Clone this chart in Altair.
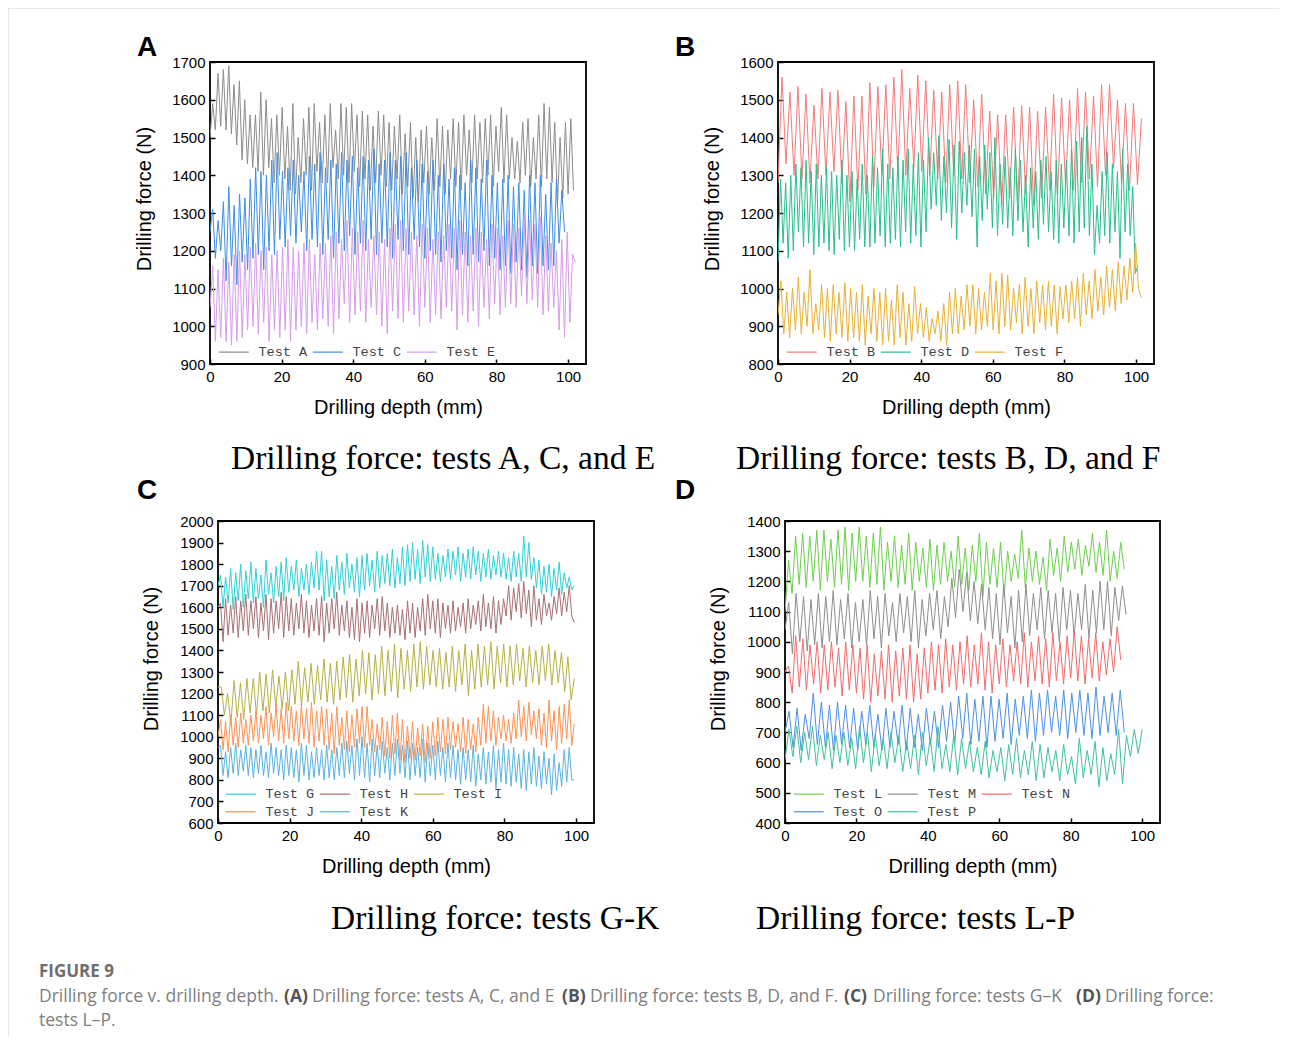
import altair as alt
import pandas as pd
import numpy as np

# ---------------- data ----------------
X_TICKS = [0, 20, 40, 60, 80, 100]

# Panel A
A_NAMES = ["Test A", "Test C", "Test E"]
A_COLORS = ["#8c8c8c", "#3d8fe6", "#d79ce9"]
TA_PEAKS = [1590,1670,1680,1690,1640,1650,1600, 1560,1560,1620,1600,1550,1560,1580,
            1530,1590,1500,1550,1580,1590,1540, 1560,1590,1520,1590,1580,1590,1560,
            1570,1560,1530,1570,1560,1540,1530, 1560,1510,1540,1500,1520,1530,1500,
            1550,1530,1520,1550,1540,1560,1520, 1560,1540,1550,1560,1530,1580,1560,
            1500,1490,1540,1550,1500,1560, 1590,1580,1540,1500,1540,1550]
TA_TROUGHS = [1520,1530,1520,1510,1480,1440,1430, 1420,1410,1400,1420,1380,1400,1390,
              1360,1350,1380,1400,1360,1410,1380, 1380,1420,1390,1400,1380,1410,1370,
              1390,1360,1380,1400,1370,1360,1390, 1350,1370,1340,1330,1380,1350,1360,
              1370,1350,1390,1370,1360,1400,1380, 1390,1380,1400,1370,1410,1380,1390,
              1390,1380,1400,1370,1390,1370, 1390,1380,1320,1340,1350,1360]
TC_PEAKS = [1310,1280,1330,1370,1320,1350,1340, 1390,1420,1410,1400,1440,1460,1410,
            1420,1440,1400,1410,1450,1430,1460, 1420,1440,1430,1460,1440,1450,1420,
            1450,1440,1470,1430,1440,1460,1440, 1450,1460,1420,1440,1430,1410,1440,
            1400,1430,1390,1420,1400,1380, 1440,1420,1390,1440,1400,1380,
            1390,1400,1370,1380,1360,1400, 1380,1400,1350,1380,1390,1360]
TC_TROUGHS = [1180,1200,1120,1160,1110,1170,1150, 1180,1190,1150,1200,1190,1230,1210,
              1240,1220,1250,1200,1230,1210,1190, 1230,1180,1220,1200,1240,1190,1220,
              1200,1230,1190,1220,1210,1180,1230, 1200,1190,1230,1210,1180,1200,1190,
              1170,1200,1180,1150,1190,1160, 1190,1170,1200,1160,1180,1150,
              1160,1140,1170,1150,1130,1160, 1140,1160,1150,1160,1220,1250]
TE_PEAKS = [1160,1150,1180,1170,1190,1200,1190, 1210,1220,1200,1210,1190,1200,1210,
            1230,1210,1200,1220,1230,1190,1220, 1220,1240,1250,1230,1280,1260,1250,
            1280,1230,1240,1250,1230,1260,1270, 1280,1260,1250,1240,1270,1260,1230,
            1250,1240,1270,1260,1280,1250,1240, 1260,1250,1230,1270,1260,1240,1280,
            1270,1260,1290,1280,1270,1290, 1240,1220,1200,1230,1250,1190]
TE_TROUGHS = [960,970,960,950,960,970,990, 1000,980,1010,960,990,970,990,
              960,990,1000,980,1010,990,1020, 1000,980,1020,1060,1010,1030,1040,
              1010,1050,1030,1000,980,1040,1020, 1010,1040,1030,1000,1050,1010,1030,
              1020,1050,1040,990,1030,1010,1040, 1000,1050,1020,1060,1030,1050,1060,
              1050,1080,1060,1070,1050,1030, 1040,1050,990,970,1010,1170]

# Panel B
B_NAMES = ["Test B", "Test D", "Test F"]
B_COLORS = ["#f47b7b", "#28c08b", "#e9b132"]
TB_PEAKS = [1560,1520,1535,1515,1485,1530,1520,1525,1495,1510,1510,1545,1535,1540,1560,
            1580,1530,1565,1550,1525,1520,1540,1550,1540,1500,1515,1470,1460,1460,1480,
            1485,1480,1470,1480,1515,1505,1500,1530,1520,1510,1540,1540,1500,1490,1490]
TB_TROUGHS = [1330,1300,1290,1280,1290,1300,1310,1280,1230,1260,1250,1270,1300,1290,1310,
              1300,1320,1310,1300,1290,1280,1300,1290,1280,1270,1250,1240,1220,1240,1230,
              1250,1220,1240,1260,1250,1270,1260,1280,1290,1270,1300,1320,1280,1260,1275]
TD_PEAKS = [1290,1280,1300,1330,1320,1340,1310, 1330,1300,1320,1310,1300,1340,1300,
            1310,1290,1330,1300,1350,1320,1370, 1330,1320,1350,1340,1370,1330,1360,
            1340,1400,1360,1405,1350,1395,1380, 1390,1360,1380,1370,1350,1380,1360,
            1400,1330,1350,1320,1370,1340,1300, 1320,1310,1340,1350,1310,1340,1330,
            1340,1370,1390,1400,1430,1330,1220, 1310,1360,1330,1310,1370,1330,1270]
TD_TROUGHS = [1120,1080,1100,1150,1110,1120,1090, 1110,1120,1100,1090,1130,1100,1110,
              1100,1130,1110,1110,1120,1140,1110, 1120,1130,1110,1150,1120,1140,1110,
              1150,1210,1220,1180,1200,1160,1130, 1200,1220,1190,1110,1180,1210,1160,
              1140,1170,1160,1140,1180,1150,1110, 1160,1130,1170,1150,1130,1120,1160,
              1140,1120,1150,1160,1140,1090,1120, 1140,1120,1150,1080,1150,1140,1040]
TF_PEAKS = [1020,990,1000,1030,990,1050, 960,1010,1000,1010,990,1015,
            1000,990,1010,980,1000,990, 1000,970,1010,990,960,1005,
            960,950,920,940,960,990, 1000,980,1010,1010,1000,990,
            1040,1020,1040,1035,1000,1010, 1030,1000,1020,1010,1020,1010,1005,
            1010,1020,1030,1040,1020,1050,1030, 1060,1050,1070,1060,1080,1120]
TF_TROUGHS = [880,870,890,880,900,880, 890,870,860,880,870,860,
              870,860,850,880,860,850, 860,850,870,850,860,880,
              870,860,880,860,850,880, 880,890,900,880,890,900,
              890,880,900,890,910,880, 900,880,910,890,900,880,920,
              910,920,900,930,920,940,930, 950,940,960,970,990,1000]

# Panel C
C_NAMES = ["Test G", "Test H", "Test I", "Test J", "Test K"]
C_COLORS = ["#2bd3d9", "#a87072", "#b5b143", "#ff9152", "#57b3e3"]
TG_PEAKS = [1750,1740,1780,1760,1800,1770,1810, 1780,1750,1820,1760,1790,1810,1830,
            1790,1820,1780,1800,1810,1860,1860, 1820,1790,1840,1810,1850,1800,1830,
            1840,1850,1820,1860,1840,1850,1870, 1830,1880,1890,1900,1870,1910,1890,
            1880,1850,1840,1870,1860,1880,1850, 1870,1880,1860,1850,1870,1840,1860,
            1850,1830,1860,1850,1930,1900,1830, 1820,1790,1800,1780,1810,1760,1740]
TG_TROUGHS = [1600,1620,1590,1630,1600,1640,1620, 1640,1600,1660,1620,1650,1630,1670,
              1680,1650,1680,1660,1690,1680,1630, 1650,1640,1680,1660,1690,1670,1650,
              1680,1700,1670,1690,1710,1700,1690, 1710,1700,1720,1730,1710,1740,1720,
              1730,1720,1740,1730,1750,1720,1740, 1730,1750,1720,1740,1730,1750,1740,
              1730,1720,1740,1720,1740,1730,1690, 1660,1670,1650,1680,1660,1690,1680]
TH_PEAKS = [1620,1640,1610,1650,1630,1660,1630, 1650,1620,1660,1640,1630,1670,1650,
            1640,1620,1660,1630,1610,1640,1650, 1620,1640,1670,1610,1630,1600,1640,
            1620,1630,1610,1640,1650,1620,1600, 1610,1590,1630,1620,1600,1640,1660,
            1630,1640,1620,1610,1630,1600,1620, 1640,1610,1630,1660,1620,1650,1630,
            1640,1700,1690,1710,1720,1680,1700, 1640,1660,1620,1650,1690,1670,1700]
TH_TROUGHS = [1440,1470,1480,1460,1490,1470,1500, 1460,1490,1450,1480,1500,1460,1490,
              1470,1500,1480,1460,1490,1470,1440, 1480,1500,1470,1490,1460,1450,1440,
              1480,1460,1500,1470,1490,1460,1480, 1470,1450,1480,1460,1490,1470,1500,
              1480,1460,1500,1480,1490,1510,1480, 1500,1520,1490,1510,1500,1480,1520,
              1560,1540,1580,1550,1570,1510,1540, 1520,1560,1540,1570,1560,1580,1560]
TI_PEAKS = [1230,1200,1260,1250,1270,1270, 1300,1290,1310,1280,1300,1310,
            1350,1320,1340,1330,1360,1340, 1350,1370,1380,1360,1400,1390,
            1380,1420,1400,1430,1410, 1400,1430,1440,1420,1400,1410,
            1390,1420,1400,1430,1400, 1430,1420,1440,1420,1430,
            1420,1430,1410,1420,1400, 1420,1430,1400,1390,1370]
TI_TROUGHS = [1100,1060,1090,1080,1110,1100, 1120,1110,1140,1130,1120,1150,
              1140,1160,1150,1170,1160,1150, 1170,1180,1160,1190,1200,1170,
              1200,1190,1210,1180,1220, 1210,1230,1220,1240,1230,1220,
              1230,1210,1240,1190,1220, 1230,1240,1220,1250,1230,
              1240,1260,1230,1250,1240, 1260,1240,1250,1210,1170]
TJ_PEAKS = [1080,1070,1100,1090,1110,1080,1100, 1120,1100,1140,1110,1150,1130,1160,
            1140,1120,1150,1130,1160,1120,1140, 1130,1110,1140,1090,1120,1100,1130,
            1140,1140,1080,1060,1090,1070,1100, 1110,1080,1050,1070,1040,1060,1050,
            1070,1090,1080,1090,1070,1060,1090, 1080,1060,1090,1150,1140,1120,1090,
            1100,1080,1110,1170,1140,1160,1120, 1130,1110,1170,1120,1140,1150,1170]
TJ_TROUGHS = [940,930,960,950,970,960,980, 970,990,960,1000,980,970,990,
              980,960,990,970,950,980,960, 940,920,960,940,930,950,970,
              950,960,930,940,910,900,920, 890,880,900,890,910,880,900,
              910,930,920,940,950,930,920, 940,930,960,970,980,960,990,
              980,970,990,1000,980,1010,990, 960,950,980,940,970,990,960]
TK_PEAKS = [960,930,950,970,940,960,950, 940,960,930,970,950,940,960,
            950,940,970,960,930,950,940, 960,940,950,970,980,960,990,
            1000,970,990,960,980,950,970, 990,960,980,970,950,990,970,
            960,980,950,970,960,940,950, 940,960,920,950,930,960,940,
            970,940,950,920,940,930,950, 910,930,900,920,880,940,950]
TK_TROUGHS = [820,810,830,820,840,820,810, 830,820,810,830,820,800,820,
              810,790,820,800,810,820,800, 810,800,820,810,830,800,820,
              810,790,820,810,830,800,820, 830,810,800,820,810,790,820,
              800,820,790,810,800,780,800, 790,770,800,780,790,760,790,
              780,770,790,760,750,780,770, 760,780,730,750,770,790,800]

# Panel D
D_NAMES = ["Test L", "Test M", "Test N", "Test O", "Test P"]
D_COLORS = ["#6cd04c", "#8e8e8e", "#f46b6b", "#4b90e8", "#3dc495"]
TL_PEAKS = [1270,1350,1360,1350,1370, 1370,1340,1370,1380,1360, 1380,1350,1360,1380,1330,
            1350,1320,1360,1330,1310, 1340,1320,1330,1300,1350, 1310,1320,1360,1330,1310,
            1330,1300,1290,1370,1310, 1300,1280,1340,1310,1350, 1330,1340,1320,1360,1330,
            1370,1300,1330]
TL_TROUGHS = [1160,1190,1180,1200,1170, 1200,1180,1190,1170,1200, 1200,1180,1190,1170,1200,
              1180,1190,1170,1200,1180, 1170,1190,1200,1180,1190, 1170,1200,1150,1190,1180,
              1150,1200,1210,1180,1200, 1190,1170,1220,1200,1230, 1240,1220,1250,1230,1220,
              1200,1210,1240]
TM_PEAKS = [1130,1160,1150,1140,1160, 1150,1170,1140,1160,1130, 1140,1170,1150,1160,1130,
            1160,1150,1170,1140,1160, 1170,1150,1210,1240,1230, 1200,1190,1180,1160,1190,
            1150,1170,1190,1160, 1180,1170,1160,1180, 1170,1160,1190,1170,1200,
            1200,1180,1185]
TM_TROUGHS = [960,1000,970,990,980, 1000,990,1010,980,1000, 990,1010,980,1020,1000,
              1030,1000,980,1020,1040, 1010,1050,1080,1100,1070, 1060,1040,1010,990,1030,
              980,1000,1020,1040, 1010,1030,1000,1040, 1020,1040,1010,1030,1040,
              1020,1070,1090]
TN_PEAKS = [920,1020,1010,990,1000, 990,1000,980,1000,990, 980,990,960,970,990,
            970,980,990,960,980, 1000,990,1010,990,1000, 1020,990,1030,1000,990,
            1010,990,1000,1030,1000, 1020,1010,1030,1000,1020, 1040,1020,1010,1030,1000,1010,1050]
TN_TROUGHS = [830,850,840,860,830, 840,850,820,840,830, 810,800,820,810,800,
              820,810,800,810,830, 840,830,850,840,860, 850,860,840,830,860,
              850,870,860,850,870, 860,850,870,860,880, 870,860,880,870,890,900,940]
TO_PEAKS = [770,780,760,830, 800,790,800,790, 780,770,790,760, 780,770,790,780,
            760,780,770,790,800, 820,830,810,820, 820,810,830,810, 820,840,830,840,
            820,840,830,840,830, 850,820,830,840]
TO_TROUGHS = [650,640,680,660, 650,640,660,650, 640,660,650,640, 650,660,640,650,
              640,660,650,670,660, 680,660,670,650, 670,680,660,690, 680,670,690,700,
              690,680,700,690,680, 690,700,690,700]
TP_PEAKS = [710,720,700,720,690, 700,690,700,680,720, 700,690,680,700,690,
            670,690,700,680,720, 660,690,680,670,650, 670,640,650,660,680,
            640,670,660,650, 640,660,620,680, 640,670,650,630, 710,690,710]
TP_TROUGHS = [620,600,610,590,610, 580,600,590,580,600, 570,590,580,600,570,
              580,560,590,570,580, 570,560,580,570,560, 550,570,540,560,550,
              560,540,550,570, 540,560,530,550, 560,520,540,560, 530,620,630]

# series: name, start value, peaks, troughs, end value, last depth (mm)
SERIES_A = [("Test A", 1500, TA_PEAKS, TA_TROUGHS, None, 101.5),
            ("Test C", 1250, TC_PEAKS, TC_TROUGHS, None, 99.0),
            ("Test E", 1050, TE_PEAKS, TE_TROUGHS, None, 102.0)]
SERIES_B = [("Test B", 1280, TB_PEAKS, TB_TROUGHS, 1450, 101.5),
            ("Test D", 1070, TD_PEAKS, TD_TROUGHS, 1060, 100.5),
            ("Test F", 930, TF_PEAKS, TF_TROUGHS, 975, 101.5)]
SERIES_C = [("Test G", 1700, TG_PEAKS, TG_TROUGHS, 1700, 99.5),
            ("Test H", 1600, TH_PEAKS, TH_TROUGHS, 1530, 99.5),
            ("Test I", 1230, TI_PEAKS, TI_TROUGHS, 1270, 99.5),
            ("Test J", 1000, TJ_PEAKS, TJ_TROUGHS, 1060, 99.5),
            ("Test K", 950, TK_PEAKS, TK_TROUGHS, 800, 99.5)]
SERIES_D = [("Test L", 1100, TL_PEAKS, TL_TROUGHS, None, 95.0),
            ("Test M", 1040, TM_PEAKS, TM_TROUGHS, None, 95.5),
            ("Test N", 900, TN_PEAKS, TN_TROUGHS, None, 94.0),
            ("Test O", 700, TO_PEAKS, TO_TROUGHS, None, 95.0),
            ("Test P", 610, TP_PEAKS, TP_TROUGHS, 710, 100.0)]


def to_frame(defs):
    rows = []
    for name, start, peaks, troughs, end, x_end in defs:
        vals = [start]
        for p, t in zip(peaks, troughs):
            vals += [p, t]
        if end is not None:
            vals.append(end)
        xs = np.linspace(0.0, x_end, len(vals))
        for i, (x, v) in enumerate(zip(xs, vals)):
            rows.append({"test": name, "depth": float(x), "force": float(v), "i": i})
    return pd.DataFrame(rows)


SANS = "Liberation Sans"
W, H = 376, 302
ONE = pd.DataFrame({"a": [0]})


def txt(text, x, y, font=SANS, size=15, weight="normal", color="black",
        align="left", baseline="alphabetic", angle=0):
    return alt.Chart(ONE).mark_text(
        text=text, font=font, fontSize=size, fontWeight=weight, color=color,
        align=align, baseline=baseline, angle=angle,
    ).encode(x=alt.value(x), y=alt.value(y))


def common_axis(**kw):
    return alt.Axis(
        offset=-5, tickSize=5, tickWidth=1.5, tickColor="black", domain=False, grid=False,
        labelFont=SANS, labelFontSize=15, labelColor="black", labelPadding=5,
        labelFlush=False,
        titleFont=SANS, titleFontSize=20, titleFontWeight="normal", titleColor="black",
        format="d", **kw)


def panel(defs, names, colors, ydom, yticks, leg_xy, letter, let_xy, sub, sub_xy,
          ytitle_xy, width=W, extras=()):
    df = to_frame(defs)
    lines = alt.Chart(df).mark_line(strokeWidth=1.0, clip=True).encode(
        x=alt.X("depth:Q", scale=alt.Scale(domain=[0, 105], nice=False, zero=False),
                axis=common_axis(values=X_TICKS, title="Drilling depth (mm)", titlePadding=13)),
        y=alt.Y("force:Q", scale=alt.Scale(domain=ydom, nice=False, zero=False),
                axis=common_axis(values=yticks, title=None)),
        color=alt.Color("test:N", scale=alt.Scale(domain=names, range=colors),
                        legend=alt.Legend(
                            orient="none", legendX=leg_xy[0], legendY=leg_xy[1],
                            direction="horizontal", columns=3, title=None,
                            symbolType="M-3,0H3", symbolSize=100, symbolStrokeWidth=1.2,
                            symbolOffset=10,
                            labelFont="Liberation Mono", labelFontSize=13.5,
                            labelColor="#444444", labelOffset=18, columnPadding=2,
                            rowPadding=3, padding=0)),
        order="i:Q",
    )
    layers = [lines,
              txt("Drilling force (N)", ytitle_xy[0], ytitle_xy[1], size=20,
                  align="center", baseline="middle", angle=270),
              txt(letter, let_xy[0], let_xy[1], size=28, weight="bold"),
              txt(sub, sub_xy[0], sub_xy[1], font="Liberation Serif", size=33.5)]
    layers += list(extras)
    return alt.layer(*layers).properties(width=width, height=H)


# layout anchors (invisible) and page frame (light grey lines) drawn with panel A
anchor_v = alt.Chart(ONE).mark_rule(color="transparent", strokeWidth=1).encode(
    x=alt.value(-203), y=alt.value(-55), y2=alt.value(975))
anchor_h = alt.Chart(ONE).mark_rule(color="transparent", strokeWidth=1).encode(
    x=alt.value(-203), x2=alt.value(1069), y=alt.value(-55))
frame_v = alt.Chart(ONE).mark_rule(color="#d2d2d2", strokeWidth=1).encode(
    x=alt.value(-202), y=alt.value(-54), y2=alt.value(975))
frame_h = alt.Chart(ONE).mark_rule(color="#d2d2d2", strokeWidth=1).encode(
    x=alt.value(-202), x2=alt.value(1069), y=alt.value(-54))

# caption drawn with panel C
CAP_GREY = "#808080"
BOLD_GREY = "#555555"
CY1, CY2, CY3 = 456, 481, 505
caption = [
    txt("FIGURE 9", -179, CY1, font="Open Sans", size=17, weight="bold", color="#6e6e6e"),
    txt("Drilling force v. drilling depth.", -179, CY2, font="Open Sans", size=17.5, color=CAP_GREY),
    txt("(A)", 66, CY2, font="Open Sans", size=17.5, weight="bold", color=BOLD_GREY),
    txt("Drilling force: tests A, C, and E", 94, CY2, font="Open Sans", size=17.5, color=CAP_GREY),
    txt("(B)", 344, CY2, font="Open Sans", size=17.5, weight="bold", color=BOLD_GREY),
    txt("Drilling force: tests B, D, and F.", 372, CY2, font="Open Sans", size=17.5, color=CAP_GREY),
    txt("(C)", 626, CY2, font="Open Sans", size=17.5, weight="bold", color=BOLD_GREY),
    txt("Drilling force: tests G\u2013K", 655, CY2, font="Open Sans", size=17.5, color=CAP_GREY),
    txt("(D)", 858, CY2, font="Open Sans", size=17.5, weight="bold", color=BOLD_GREY),
    txt("Drilling force:", 887, CY2, font="Open Sans", size=17.5, color=CAP_GREY),
    txt("tests L\u2013P.", -179, CY3, font="Open Sans", size=17.5, color=CAP_GREY),
]

pA = panel(SERIES_A, A_NAMES, A_COLORS, [900, 1700], list(range(900, 1701, 100)),
           (7, 283), "A", (-73, -6), "Drilling force: tests A, C, and E", (21, 407),
           (-65, 137), extras=(anchor_v, anchor_h, frame_v, frame_h))
pB = panel(SERIES_B, B_NAMES, B_COLORS, [800, 1600], list(range(800, 1601, 100)),
           (7, 283), "B", (-103, -6), "Drilling force: tests B, D, and F", (-42, 407),
           (-65, 137))
pC = panel(SERIES_C, C_NAMES, C_COLORS, [600, 2000], list(range(600, 2001, 100)),
           (6, 266), "C", (-81, -22), "Drilling force: tests G-K", (113, 408),
           (-66, 138), extras=caption)
pD = panel(SERIES_D, D_NAMES, D_COLORS, [400, 1400], list(range(400, 1401, 100)),
           (7, 266), "D", (-110, -22), "Drilling force: tests L-P", (-29, 408),
           (-66, 138), width=375)

spacer = alt.Chart(ONE).mark_point(opacity=0).encode(
    x=alt.value(0), y=alt.value(0)
).properties(width=8, height=H, view=alt.ViewBackground(stroke="transparent"))

row1 = alt.hconcat(pA, pB, spacing=192, bounds="flush").resolve_scale(
    color="independent").resolve_legend(color="independent")
row2_inner = alt.hconcat(pC, pD, spacing=191, bounds="flush").resolve_scale(
    color="independent").resolve_legend(color="independent")
row2 = alt.hconcat(spacer, row2_inner, spacing=0, bounds="flush").resolve_scale(
    color="independent").resolve_legend(color="independent")

chart = alt.vconcat(row1, row2, spacing=459, bounds="flush").resolve_scale(
    color="independent").resolve_legend(color="independent").properties(
    padding={"left": -3, "top": -3, "right": 0, "bottom": 0}, background="white"
).configure_view(stroke="black", strokeWidth=1.8)

chart.save("out.html", embed_options={"renderer": "svg", "actions": False})
